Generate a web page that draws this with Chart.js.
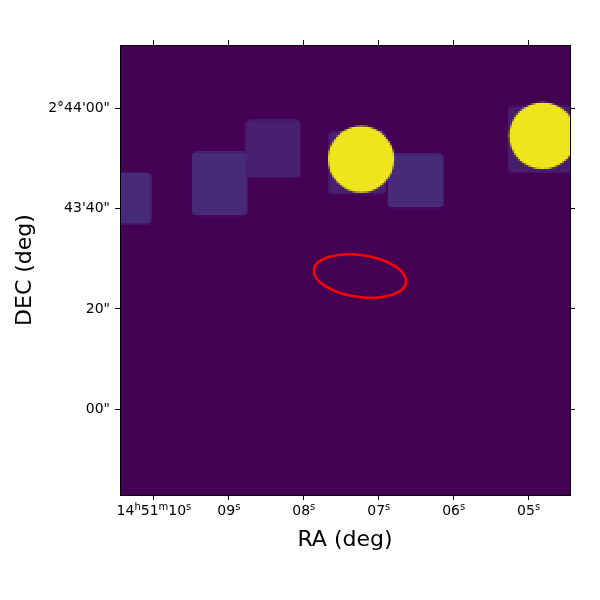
<!DOCTYPE html>
<html>
<head>
<meta charset="utf-8">
<script src="https://cdn.jsdelivr.net/npm/chart.js@4.4.0/dist/chart.umd.min.js"></script>
<style>
  html, body { margin: 0; padding: 0; background: #fff; }
  #wrap { width: 600px; height: 600px; }
</style>
</head>
<body>
<div id="wrap"><canvas id="sky"></canvas></div>
<script>
// RA given as seconds past 14h51m, Dec as arcsec past +2°43'00"
const raTicks = [10, 9, 8, 7, 6, 5];
const raTickLabels = ['14ʰ51ᵐ10ˢ', '09ˢ', '08ˢ', '07ˢ', '06ˢ', '05ˢ'];
const decTicks = [0, 20, 40, 60];
const decTickLabels = ['00"', '20"', '43\'40"', '2°44\'00"'];
const raRange = [4.448, 10.453];
const decRange = [-17.08, 72.62];
const decZero = 2 + 43 / 60; // degrees, for the cos(dec) factor

// faint footprints (centre RA s, centre Dec ", width ", height ")
const boxRa = [10.401, 9.124, 8.413, 7.286, 6.507, 4.853];
const boxDec = [42.05, 44.97, 52.02, 49.12, 45.65, 53.81];
const boxW = [11.0, 11.08, 11.06, 11.54, 11.2, 12.8];
const boxH = [10.23, 12.76, 11.56, 12.42, 10.76, 13.3];
const boxColor = ['#472b7a', '#472b7a', '#48206f', '#48206f', '#472b7a', '#471d6d'];

// bright sources
const srcRa = [7.235, 4.813];
const srcDec = [49.85, 54.54];
const srcR = [6.6, 6.65];

// error ellipse
const ellRa = 7.251;
const ellDec = 26.57;
const ellA = 9.27;
const ellB = 4.19;
const ellAngle = 8;

const skyColor = '#440154';
const srcColor = '#efe51c';
const supChars = { 'ʰ': 'h', 'ᵐ': 'm', 'ˢ': 's' };

function raSpan(arcsec) {
  return arcsec / (15 * Math.cos(decZero * Math.PI / 180));
}

const skyImage = {
  id: 'skyImage',
  beforeDraw(chart) {
    const { ctx, chartArea: a, scales: { x, y } } = chart;
    const w = a.right - a.left, h = a.bottom - a.top;
    const f = 2; // image pixel size on screen
    const off = document.createElement('canvas');
    off.width = Math.ceil(w / f);
    off.height = Math.ceil(h / f);
    const o = off.getContext('2d');
    const px = v => (x.getPixelForValue(v) - a.left) / f;
    const py = v => (y.getPixelForValue(v) - a.top) / f;

    o.fillStyle = skyColor;
    o.fillRect(0, 0, off.width, off.height);

    for (let i = 0; i < boxRa.length; i++) {
      const dr = raSpan(boxW[i]) / 2;
      const x0 = Math.min(px(boxRa[i] + dr), px(boxRa[i] - dr));
      const x1 = Math.max(px(boxRa[i] + dr), px(boxRa[i] - dr));
      const y0 = py(boxDec[i] + boxH[i] / 2);
      const y1 = py(boxDec[i] - boxH[i] / 2);
      o.fillStyle = boxColor[i];
      o.beginPath();
      o.roundRect(x0, y0, x1 - x0, y1 - y0, 2.5);
      o.fill();
    }

    o.fillStyle = srcColor;
    for (let i = 0; i < srcRa.length; i++) {
      const r = Math.abs(py(srcDec[i] + srcR[i]) - py(srcDec[i]));
      o.beginPath();
      o.arc(px(srcRa[i]), py(srcDec[i]), r, 0, Math.PI * 2);
      o.fill();
    }

    ctx.save();
    ctx.beginPath();
    ctx.rect(a.left, a.top, w, h);
    ctx.clip();
    ctx.imageSmoothingEnabled = false;
    ctx.drawImage(off, a.left, a.top, off.width * f, off.height * f);

    const ex = x.getPixelForValue(ellRa);
    const ey = y.getPixelForValue(ellDec);
    const ea = Math.abs(y.getPixelForValue(ellDec + ellA) - ey);
    const eb = Math.abs(y.getPixelForValue(ellDec + ellB) - ey);
    ctx.strokeStyle = '#ff0000';
    ctx.lineWidth = 2.5;
    ctx.beginPath();
    ctx.ellipse(ex, ey, ea, eb, ellAngle * Math.PI / 180, 0, Math.PI * 2);
    ctx.stroke();
    ctx.restore();
  },
  // RA labels with real superscripts for h, m, s
  afterDraw(chart) {
    const { ctx, chartArea: a, scales: { x } } = chart;
    const mainFont = '14px "DejaVu Sans"';
    const supFont = '10px "DejaVu Sans"';
    ctx.save();
    ctx.fillStyle = '#000';
    ctx.textBaseline = 'alphabetic';
    ctx.textAlign = 'left';
    raTicks.forEach((v, i) => {
      const parts = [];
      for (const ch of raTickLabels[i]) {
        const sup = ch in supChars;
        const t = sup ? supChars[ch] : ch;
        const last = parts[parts.length - 1];
        if (last && last.sup === sup) last.text += t;
        else parts.push({ text: t, sup: sup });
      }
      let total = 0;
      parts.forEach(p => {
        ctx.font = p.sup ? supFont : mainFont;
        p.w = ctx.measureText(p.text).width;
        total += p.w;
      });
      let cx = x.getPixelForValue(v) - total / 2;
      const base = a.bottom + 20;
      parts.forEach(p => {
        ctx.font = p.sup ? supFont : mainFont;
        ctx.fillText(p.text, cx, p.sup ? base - 4.6 : base);
        cx += p.w;
      });
    });
    ctx.restore();
  }
};

const tickFont = { family: 'DejaVu Sans', size: 14 };
const titleFont = { family: 'DejaVu Sans', size: 22 };

function edgeAxis(position, ticks, range, reverse, size) {
  return {
    type: 'linear',
    position: position,
    reverse: reverse,
    min: range[0],
    max: range[1],
    afterBuildTicks: s => { s.ticks = ticks.map(v => ({ value: v })); },
    afterFit: s => {
      if (s.isHorizontal()) s.height = size; else s.width = size;
    },
    ticks: { display: false },
    grid: { drawOnChartArea: false, color: '#000', tickLength: 5, tickWidth: 1 },
    border: { display: true, color: '#000', width: 1 }
  };
}

new Chart(document.getElementById('sky'), {
  type: 'scatter',
  data: { datasets: [] },
  options: {
    responsive: true,
    maintainAspectRatio: false,
    animation: false,
    layout: { padding: 0 },
    plugins: { legend: { display: false }, tooltip: { enabled: false } },
    scales: {
      x: {
        type: 'linear',
        position: 'bottom',
        reverse: true,
        min: raRange[0],
        max: raRange[1],
        afterBuildTicks: s => { s.ticks = raTicks.map(v => ({ value: v })); },
        afterFit: s => { s.height = 105; },
        ticks: { display: false },
        grid: { drawOnChartArea: false, color: '#000', tickLength: 5, tickWidth: 1 },
        border: { display: true, color: '#000', width: 1 },
        title: { display: true, text: 'RA (deg)', font: titleFont, color: '#000', padding: { top: 0, bottom: 47 } }
      },
      y: {
        type: 'linear',
        position: 'left',
        min: decRange[0],
        max: decRange[1],
        afterBuildTicks: s => { s.ticks = decTicks.map(v => ({ value: v })); },
        afterFit: s => { s.width = 120; },
        ticks: {
          font: tickFont,
          color: '#000',
          padding: 5,
          autoSkip: false,
          callback: v => decTickLabels[decTicks.indexOf(v)]
        },
        grid: { drawOnChartArea: false, color: '#000', tickLength: 5, tickWidth: 1 },
        border: { display: true, color: '#000', width: 1 },
        title: { display: true, text: 'DEC (deg)', font: titleFont, color: '#000', padding: { top: 12, bottom: 0 } }
      },
      x2: edgeAxis('top', raTicks, raRange, true, 45),
      y2: edgeAxis('right', decTicks, decRange, false, 30)
    }
  },
  plugins: [skyImage]
});
</script>
</body>
</html>
